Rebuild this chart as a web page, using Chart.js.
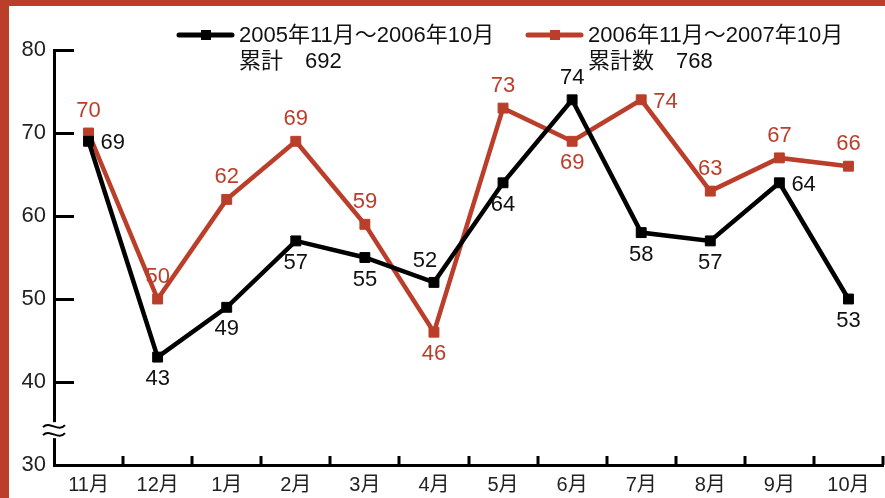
<!DOCTYPE html>
<html>
<head>
<meta charset="utf-8">
<script src="https://cdn.jsdelivr.net/npm/chart.js@4/dist/chart.umd.min.js"></script>
<style>
  body { margin: 0; background: #fff; }
  #wrap { width: 885px; height: 498px; position: relative; }
</style>
</head>
<body>
<div id="wrap"><canvas id="myChart" width="885" height="498"></canvas></div>
<script>
var months = ['11月', '12月', '1月', '2月', '3月', '4月', '5月', '6月', '7月', '8月', '9月', '10月'];
var yTicks = [30, 40, 50, 60, 70, 80];

var seriesNames = ['2005年11月～2006年10月', '2006年11月～2007年10月'];
var seriesTotals = ['累計　692', '累計数　768'];

// plotted values
var blackValues = [69, 43, 49, 57, 55, 52, 64, 74, 58, 57, 64, 50];
var redValues = [70, 50, 62, 69, 59, 46, 73, 69, 74, 63, 67, 66];
// numbers printed next to the points (last black one says 53)
var blackLabels = ['69', '43', '49', '57', '55', '52', '64', '74', '58', '57', '64', '53'];
var redLabels = ['70', '50', '62', '69', '59', '46', '73', '69', '74', '63', '67', '66'];

var blackPlace = ['right', 'below', 'below', 'below', 'below', 'aboveLeft', 'below', 'above', 'below', 'below', 'right', 'below'];
var redPlace = ['above', 'above', 'above', 'above', 'above', 'below', 'above', 'below', 'right', 'above', 'above', 'above'];

var RED = '#bb3e2a';
var FONT = '"Liberation Sans", "Noto Sans CJK JP", sans-serif';

var decor = {
    id: 'decor',
    beforeDraw: function(chart) {
        var ctx = chart.ctx;
        ctx.save();
        ctx.fillStyle = '#fff';
        ctx.fillRect(0, 0, chart.width, chart.height);
        ctx.restore();
    },
    afterDraw: function(chart) {
        var ctx = chart.ctx;
        var x = chart.scales.x, y = chart.scales.y;
        var area = chart.chartArea;
        ctx.save();

        // inward ticks on y axis
        ctx.strokeStyle = '#000';
        ctx.lineWidth = 3;
        yTicks.forEach(function(v) {
            var py = Math.round(y.getPixelForValue(v)) + 0.5;
            ctx.beginPath();
            ctx.moveTo(area.left, py);
            ctx.lineTo(area.left + 20, py);
            ctx.stroke();
        });
        // inward ticks on x axis at category boundaries
        var half = (x.getPixelForValue(1) - x.getPixelForValue(0)) / 2;
        for (var i = 0; i < months.length; i++) {
            var px = Math.round(x.getPixelForValue(i) + half);
            ctx.beginPath();
            ctx.moveTo(px, area.bottom);
            ctx.lineTo(px, area.bottom - 9);
            ctx.stroke();
        }

        // axis break
        var by = y.getPixelForValue(34.2);
        ctx.fillStyle = '#fff';
        ctx.fillRect(area.left - 4, by - 8, 8, 16);
        ctx.lineWidth = 2;
        [-4, 4].forEach(function(d) {
            ctx.beginPath();
            ctx.moveTo(area.left - 11, by + d + 1);
            ctx.bezierCurveTo(area.left - 4, by + d - 6, area.left + 4, by + d + 7, area.left + 11, by + d - 1);
            ctx.stroke();
        });

        // legend
        var legend = [
            { x: 177, color: '#000' },
            { x: 526, color: RED }
        ];
        legend.forEach(function(item, k) {
            ctx.strokeStyle = item.color;
            ctx.fillStyle = item.color;
            ctx.lineWidth = 5;
            ctx.lineCap = 'round';
            ctx.beginPath();
            ctx.moveTo(item.x + 2, 35);
            ctx.lineTo(item.x + 55, 35);
            ctx.stroke();
            ctx.fillRect(item.x + 24, 30, 10, 10);
            ctx.fillStyle = '#111';
            ctx.font = '22px ' + FONT;
            ctx.textAlign = 'left';
            ctx.textBaseline = 'middle';
            ctx.fillText(seriesNames[k], item.x + 62, 36);
            ctx.fillText(seriesTotals[k], item.x + 62, 62);
        });

        ctx.restore();

        // frame
        ctx.save();
        ctx.fillStyle = RED;
        ctx.fillRect(0, 0, chart.width, 6);
        ctx.fillRect(0, 0, 9, chart.height);
        ctx.restore();
    },
    afterDatasetsDraw: function(chart) {
        var ctx = chart.ctx;
        var sets = [
            { labels: blackLabels, place: blackPlace, color: '#111' },
            { labels: redLabels, place: redPlace, color: RED }
        ];
        ctx.save();
        ctx.font = '22px ' + FONT;
        ctx.textBaseline = 'middle';
        sets.forEach(function(s, d) {
            var meta = chart.getDatasetMeta(d);
            meta.data.forEach(function(pt, i) {
                var p = s.place[i];
                var tx = pt.x, ty = pt.y;
                ctx.textAlign = 'center';
                if (p === 'above') ty -= 22;
                else if (p === 'below') ty += 22;
                else if (p === 'aboveLeft') { tx -= 9; ty -= 21; }
                else if (p === 'right') { ctx.textAlign = 'left'; tx += 12; ty += 2; }
                ctx.fillStyle = s.color;
                ctx.fillText(s.labels[i], tx, ty);
            });
        });
        ctx.restore();
    }
};

var ctx = document.getElementById('myChart').getContext('2d');
var chart = new Chart(ctx, {
    type: 'line',
    data: {
        labels: months,
        datasets: [
            {
                label: seriesNames[0],
                data: blackValues,
                borderColor: '#000',
                backgroundColor: '#000',
                borderWidth: 4.5,
                pointStyle: 'rect',
                pointRadius: 7,
                pointBorderWidth: 1,
                tension: 0,
                clip: false
            },
            {
                label: seriesNames[1],
                data: redValues,
                borderColor: RED,
                backgroundColor: RED,
                borderWidth: 4.5,
                pointStyle: 'rect',
                pointRadius: 7,
                pointBorderWidth: 1,
                tension: 0,
                clip: false
            }
        ]
    },
    options: {
        responsive: false,
        animation: false,
        layout: { autoPadding: false, padding: { top: 50, right: 2, left: 0, bottom: 0 } },
        plugins: {
            legend: { display: false },
            tooltip: { enabled: false }
        },
        scales: {
            x: {
                offset: true,
                grid: { display: false, drawTicks: false },
                border: { display: true, color: '#000', width: 3 },
                ticks: { color: '#222', font: { family: FONT, size: 20 }, padding: 8, maxRotation: 0 },
                afterFit: function(s) { s.height = 33; s.paddingLeft = 0; s.paddingRight = 0; }
            },
            y: {
                min: 30,
                max: 80,
                grid: { display: false, drawTicks: false },
                border: { display: true, color: '#000', width: 3 },
                ticks: { stepSize: 10, color: '#222', font: { family: FONT, size: 22 }, padding: 8 },
                afterFit: function(s) { s.width = 54; s.paddingTop = 0; s.paddingBottom = 0; }
            }
        }
    },
    plugins: [decor]
});
</script>
</body>
</html>
